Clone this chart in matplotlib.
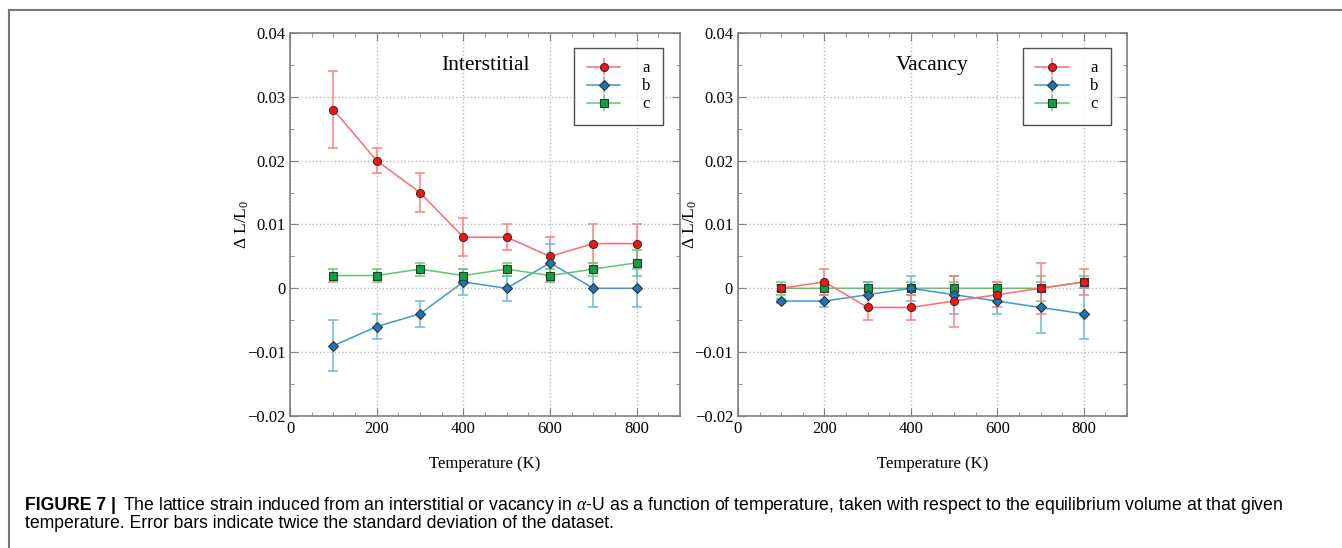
import numpy as np
import matplotlib.pyplot as plt
from matplotlib.lines import Line2D

# temperatures (K)
temps = [100, 200, 300, 400, 500, 600, 700, 800]

# interstitial
int_a = [0.028, 0.020, 0.015, 0.008, 0.008, 0.005, 0.007, 0.007]
int_a_err = [0.006, 0.002, 0.003, 0.003, 0.002, 0.003, 0.003, 0.003]
int_b = [-0.009, -0.006, -0.004, 0.001, 0.000, 0.004, 0.000, 0.000]
int_b_err = [0.004, 0.002, 0.002, 0.002, 0.002, 0.003, 0.003, 0.003]
int_c = [0.002, 0.002, 0.003, 0.002, 0.003, 0.002, 0.003, 0.004]
int_c_err = [0.001, 0.001, 0.001, 0.001, 0.001, 0.001, 0.001, 0.002]

# vacancy
vac_a = [0.000, 0.001, -0.003, -0.003, -0.002, -0.001, 0.000, 0.001]
vac_a_err = [0.0005, 0.002, 0.002, 0.002, 0.004, 0.002, 0.004, 0.002]
vac_b = [-0.002, -0.002, -0.001, 0.000, -0.001, -0.002, -0.003, -0.004]
vac_b_err = [0.0003, 0.001, 0.002, 0.002, 0.003, 0.002, 0.004, 0.004]
vac_c = [0.000, 0.000, 0.000, 0.000, 0.000, 0.000, 0.000, 0.001]
vac_c_err = [0.001, 0.001, 0.001, 0.001, 0.001, 0.001, 0.002, 0.001]

x_ticks = [0, 200, 400, 600, 800]
y_ticks = [-0.02, -0.01, 0, 0.01, 0.02, 0.03, 0.04]
y_labels = ['\u22120.02', '\u22120.01', '0', '0.01', '0.02', '0.03', '0.04']

styles = {
    'a': dict(line='#ff6b6b', err='#ff8080', face='#ff1010', marker='o', ms=5.8),
    'b': dict(line='#3a9ad0', err='#6cb8e0', face='#1a78b8', marker='D', ms=5.2),
    'c': dict(line='#5cc86a', err='#66d070', face='#10a040', marker='s', ms=5.2),
}

serif = ['Liberation Serif', 'DejaVu Serif']
plt.rcParams['font.family'] = serif
plt.rcParams['mathtext.fontset'] = 'custom'
plt.rcParams['mathtext.rm'] = 'Liberation Serif'
plt.rcParams['mathtext.it'] = 'Liberation Serif:italic'

fig = plt.figure(figsize=(13.42, 5.48), dpi=100)

# outer frame lines
fig.add_artist(Line2D([9 / 1342, 1], [1 - 10 / 548, 1 - 10 / 548], color='#777777', lw=1.5))
fig.add_artist(Line2D([9 / 1342, 9 / 1342], [0, 1 - 10 / 548], color='#777777', lw=1.5))


def draw_panel(ax, series, title, leg_x):
    for key, (y, e) in series.items():
        st = styles[key]
        ax.errorbar(temps, y, yerr=e, fmt='none', ecolor=st['err'], elinewidth=1.1,
                    capsize=3.8, capthick=1.1, zorder=2)
        ax.plot(temps, y, color=st['line'], lw=1.1, zorder=3)
    for key, (y, e) in series.items():
        st = styles[key]
        ax.plot(temps, y, ls='none', marker=st['marker'], ms=st['ms'],
                markerfacecolor=st['face'], markeredgecolor='#333333', mew=0.8, zorder=4)
    ax.set_xlim(0, 900)
    ax.set_ylim(-0.02, 0.04)
    ax.set_xticks(x_ticks)
    ax.set_xticks(np.arange(0, 901, 50), minor=True)
    ax.set_yticks(y_ticks)
    ax.set_yticklabels(y_labels)
    ax.set_yticks(np.arange(-0.02, 0.0401, 0.005), minor=True)
    ax.tick_params(which='both', direction='in', top=True, right=True,
                   color='#808080', labelsize=12)
    ax.tick_params(which='major', length=6)
    ax.tick_params(which='minor', length=3)
    ax.grid(True, which='major', color='#bbbbbb', ls=':', lw=1.0, zorder=0)
    for sp in ax.spines.values():
        sp.set_color('#808080')
        sp.set_linewidth(1.2)
    ax.set_xlabel('Temperature (K)', fontsize=12, labelpad=13.5)
    ax.set_ylabel(r'$\Delta$ L/L$_0$', fontsize=12.5, labelpad=-3)
    ax.text(0.5, 0.915, title, transform=ax.transAxes, ha='center', va='center', fontsize=15.5)

    handles = []
    for key in ['a', 'b', 'c']:
        st = styles[key]
        h = ax.errorbar([], [], yerr=[], color=st['line'], ecolor=st['err'],
                        marker=st['marker'], ms=st['ms'], markerfacecolor=st['face'],
                        markeredgecolor='#333333', mew=0.8, capsize=3.8, lw=1.1)
        handles.append(h)
    leg = ax.legend(handles, ['a', 'b', 'c'], loc='upper right', bbox_to_anchor=(leg_x, 0.961),
                    borderaxespad=0, fontsize=12, frameon=True, fancybox=False,
                    edgecolor='#222222', handlelength=2.0, borderpad=0.75,
                    labelspacing=0.12, handletextpad=1.3)
    leg.get_frame().set_linewidth(1.0)


ax1 = fig.add_axes([0.2161, 0.2409, 0.2906, 0.699])
draw_panel(ax1, {'a': (int_a, int_a_err), 'b': (int_b, int_b_err), 'c': (int_c, int_c_err)},
           'Interstitial', 0.956)

ax2 = fig.add_axes([0.5499, 0.2409, 0.2899, 0.699])
draw_panel(ax2, {'c': (vac_c, vac_c_err), 'b': (vac_b, vac_b_err), 'a': (vac_a, vac_a_err)},
           'Vacancy', 0.959)

# caption
sans = ['Liberation Sans', 'DejaVu Sans']
cap_size = 12.7
fig.text(25 / 1342, 1 - 506 / 548, 'FIGURE 7 |', fontsize=cap_size, fontweight='bold',
         family=sans, va='center', ha='left')
fig.text(123 / 1342, 1 - 506 / 548,
         r'The lattice strain induced from an interstitial or vacancy in $\alpha$-U as a function '
         'of temperature, taken with respect to the equilibrium volume at that given',
         fontsize=cap_size, family=sans, va='center', ha='left')
fig.text(25 / 1342, 1 - 523 / 548,
         'temperature. Error bars indicate twice the standard deviation of the dataset.',
         fontsize=cap_size, family=sans, va='center', ha='left')

fig.savefig('out.png', dpi=100)
